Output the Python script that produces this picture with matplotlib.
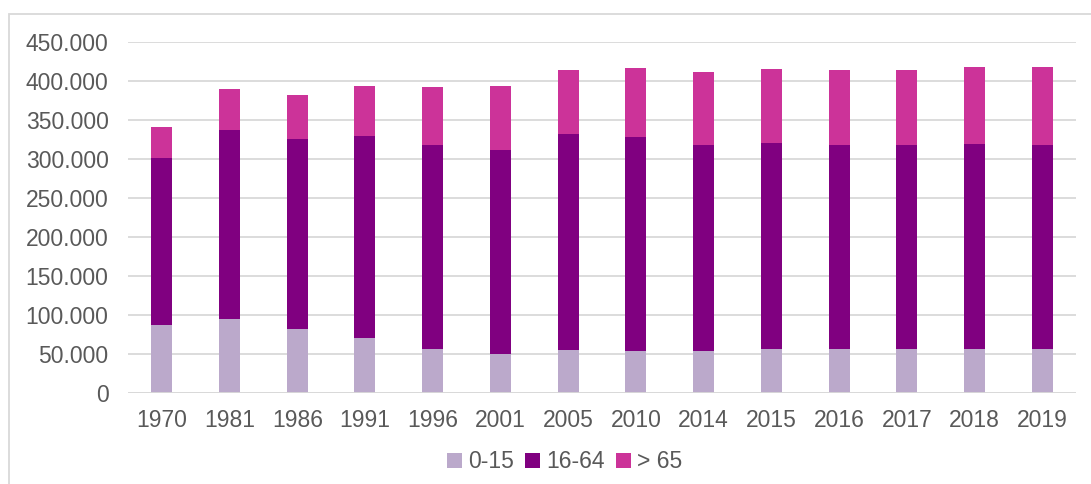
import numpy as np
import matplotlib
matplotlib.use("Agg")
import matplotlib.pyplot as plt
from matplotlib.patches import Rectangle
from matplotlib.ticker import FuncFormatter

years = ["1970", "1981", "1986", "1991", "1996", "2001", "2005",
         "2010", "2014", "2015", "2016", "2017", "2018", "2019"]
# stack tops
young = [86800, 94500, 81700, 70600, 56000, 49600, 54300,
         53500, 53000, 56000, 56000, 56000, 56000, 55600]
working = [214700, 243000, 243800, 258700, 262200, 262200, 277200,
           275000, 265200, 263900, 261800, 261800, 263500, 262600]
old = [39800, 51700, 56500, 64600, 73600, 81700, 83000,
       88100, 93300, 95000, 95800, 96700, 98400, 99300]
series_names = ["0-15", "16-64", "> 65"]

colors = ["#BBA9CB", "#800080", "#CC3399"]
text_col = "#595959"
grid_col = "#D9D9D9"

plt.rcParams['font.family'] = ['Liberation Sans', 'DejaVu Sans']

fig = plt.figure(figsize=(10.91, 4.84), dpi=100)
ax = fig.add_axes([0.1173, 0.1886, 0.8690, 0.7246])

x = np.arange(len(years))
young = np.array(young)
working = np.array(working)
old = np.array(old)
bw = 0.31
ax.bar(x, young, bw, color=colors[0], label=series_names[0], zorder=3)
ax.bar(x, working, bw, bottom=young, color=colors[1], label=series_names[1], zorder=3)
ax.bar(x, old, bw, bottom=young + working, color=colors[2], label=series_names[2], zorder=3)

ax.set_xlim(-0.5, len(years) - 0.5)
ax.set_ylim(0, 450000)
ax.set_yticks(np.arange(0, 450001, 50000))
ax.yaxis.set_major_formatter(FuncFormatter(lambda v, p: f"{int(v):,}".replace(",", ".")))
ax.set_xticks(x)
ax.set_xticklabels(years)
ax.tick_params(axis='both', length=0, labelsize=16.5, colors=text_col)
ax.tick_params(axis='y', pad=14)
ax.tick_params(axis='x', pad=12)
ax.grid(axis='y', color=grid_col, linewidth=1.3, zorder=0)
for s in ax.spines.values():
    s.set_visible(False)
ax.axhline(0, color=grid_col, linewidth=1.3, zorder=4)

leg = fig.legend(loc='center', bbox_to_anchor=(0.5175, 0.046), ncol=3, frameon=False,
                 fontsize=16.5, handlelength=0.65, handleheight=0.65,
                 handletextpad=0.25, columnspacing=0.5)
for t in leg.get_texts():
    t.set_color(text_col)

fig.patches.append(Rectangle((9 / 1091, -0.1), 1.2, (484 - 14) / 484 + 0.1,
                             transform=fig.transFigure, fill=False,
                             edgecolor=grid_col, linewidth=1.3))

fig.savefig("out.png", dpi=100)
